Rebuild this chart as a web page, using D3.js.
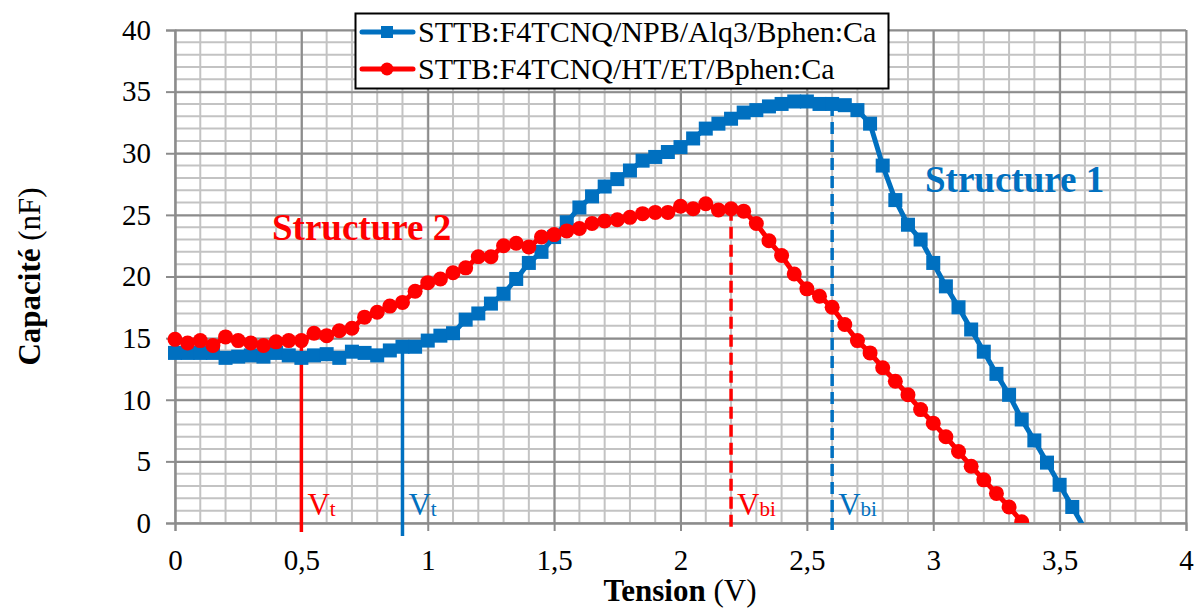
<!DOCTYPE html>
<html>
<head>
<meta charset="utf-8">
<script src="https://cdn.jsdelivr.net/npm/d3@7"></script>
<style>
  body { margin: 0; background: #fff; }
  text { font-family: "Liberation Serif", "Times New Roman", serif; }
</style>
</head>
<body>
<div id="chart"></div>
<script>
const width = 1200;
const height = 608;
const margin = { top: 30, right: 14, bottom: 85, left: 175 };

// Structure 1 : STTB:F4TCNQ/NPB/Alq3/Bphen:Ca
const tension1 = [0, 0.05, 0.1, 0.15, 0.2, 0.25, 0.3, 0.35, 0.4, 0.45, 0.5, 0.55, 0.6, 0.65, 0.7, 0.75,
  0.8, 0.85, 0.9, 0.95, 1, 1.05, 1.1, 1.15, 1.2, 1.25, 1.3, 1.35, 1.4, 1.45, 1.5, 1.55, 1.6, 1.65,
  1.7, 1.75, 1.8, 1.85, 1.9, 1.95, 2, 2.05, 2.1, 2.15, 2.2, 2.25, 2.3, 2.35, 2.4, 2.45, 2.5, 2.55,
  2.6, 2.65, 2.7, 2.75, 2.8, 2.85, 2.9, 2.95, 3, 3.05, 3.1, 3.15, 3.2, 3.25, 3.3, 3.35, 3.4, 3.45,
  3.5, 3.55, 3.6];
const capa1 = [13.8, 13.8, 13.8, 13.8, 13.4, 13.5, 13.6, 13.5, 13.8, 13.6, 13.4, 13.6, 13.7, 13.4, 13.9, 13.8,
  13.6, 14.0, 14.3, 14.3, 14.8, 15.2, 15.4, 16.5, 17.0, 17.8, 18.6, 19.8, 21.1, 22.0, 23.2, 24.4, 25.6, 26.5,
  27.3, 27.9, 28.6, 29.4, 29.7, 30.1, 30.5, 31.2, 32.0, 32.4, 32.8, 33.3, 33.5, 33.8, 34.0, 34.2, 34.2, 34.0,
  34.0, 33.9, 33.5, 32.4, 29.0, 26.2, 24.2, 23.0, 21.1, 19.2, 17.5, 15.7, 13.9, 12.1, 10.4, 8.4, 6.7, 4.9,
  3.1, 1.3, -0.5];

// Structure 2 : STTB:F4TCNQ/HT/ET/Bphen:Ca
const tension2 = [0, 0.05, 0.1, 0.15, 0.2, 0.25, 0.3, 0.35, 0.4, 0.45, 0.5, 0.55, 0.6, 0.65, 0.7, 0.75,
  0.8, 0.85, 0.9, 0.95, 1, 1.05, 1.1, 1.15, 1.2, 1.25, 1.3, 1.35, 1.4, 1.45, 1.5, 1.55, 1.6, 1.65,
  1.7, 1.75, 1.8, 1.85, 1.9, 1.95, 2, 2.05, 2.1, 2.15, 2.2, 2.25, 2.3, 2.35, 2.4, 2.45, 2.5, 2.55,
  2.6, 2.65, 2.7, 2.75, 2.8, 2.85, 2.9, 2.95, 3, 3.05, 3.1, 3.15, 3.2, 3.25, 3.3, 3.35];
const capa2 = [14.9, 14.6, 14.8, 14.4, 15.1, 14.8, 14.6, 14.4, 14.7, 14.8, 14.8, 15.4, 15.2, 15.6, 15.8, 16.7,
  17.1, 17.6, 17.9, 18.8, 19.5, 19.8, 20.3, 20.7, 21.6, 21.6, 22.5, 22.7, 22.4, 23.2, 23.4, 23.7, 23.9, 24.3,
  24.5, 24.6, 24.8, 25.1, 25.2, 25.2, 25.7, 25.5, 25.9, 25.4, 25.5, 25.3, 24.3, 22.9, 21.7, 20.2, 19.0, 18.4,
  17.5, 16.1, 14.8, 13.8, 12.6, 11.5, 10.4, 9.2, 8.1, 7.0, 5.8, 4.6, 3.5, 2.4, 1.3, 0.1];

// tensions caractéristiques
const markerV = [0.5, 0.9, 2.2, 2.6];
const markerTop = [14.8, 14.3, 25.5, 34.0];
const markerSeries = [2, 1, 2, 1];
const markerLabel = ["t", "t", "bi", "bi"];
const markerDashed = [false, false, true, true];

const xTicks = [0, 0.5, 1, 1.5, 2, 2.5, 3, 3.5, 4];
const yTicks = [0, 5, 10, 15, 20, 25, 30, 35, 40];
const legendLabels = ["STTB:F4TCNQ/NPB/Alq3/Bphen:Ca", "STTB:F4TCNQ/HT/ET/Bphen:Ca"];

const blue = "#0070C0";
const red = "#FF0000";
const colorOf = s => s === 1 ? blue : red;
const fmt = d => String(d).replace(".", ",");

const svg = d3.select("#chart").append("svg")
  .attr("width", width)
  .attr("height", height);

const x = d3.scaleLinear().domain([0, 4]).range([margin.left, width - margin.right]);
const y = d3.scaleLinear().domain([0, 40]).range([height - margin.bottom, margin.top]);

// grille secondaire
svg.append("g")
  .selectAll("line")
  .data(d3.range(0, 4.01, 0.1).map(d => +d.toFixed(1)))
  .join("line")
  .attr("x1", d => x(d)).attr("x2", d => x(d))
  .attr("y1", y(0)).attr("y2", y(40))
  .attr("stroke", "#c3c3c3").attr("stroke-width", 2);

svg.append("g")
  .selectAll("line")
  .data(d3.range(0, 41, 1))
  .join("line")
  .attr("x1", x(0)).attr("x2", x(4))
  .attr("y1", d => y(d)).attr("y2", d => y(d))
  .attr("stroke", "#c3c3c3").attr("stroke-width", 2);

// grille principale
svg.append("g")
  .call(d3.axisBottom(x).tickValues(xTicks).tickSize(-(y(0) - y(40))).tickFormat(""))
  .attr("transform", `translate(0,${y(0)})`)
  .call(g => g.select(".domain").remove())
  .call(g => g.selectAll("line").attr("stroke", "#8c8c8c").attr("stroke-width", 2));

svg.append("g")
  .call(d3.axisLeft(y).tickValues(yTicks).tickSize(-(x(4) - x(0))).tickFormat(""))
  .attr("transform", `translate(${x(0)},0)`)
  .call(g => g.select(".domain").remove())
  .call(g => g.selectAll("line").attr("stroke", "#8c8c8c").attr("stroke-width", 2));

// axes
const xAxis = svg.append("g")
  .attr("transform", `translate(0,${y(0)})`)
  .call(d3.axisBottom(x).tickValues(xTicks).tickSize(8).tickPadding(18).tickFormat(fmt));
xAxis.select(".domain").attr("stroke", "#8c8c8c").attr("stroke-width", 2);
xAxis.selectAll(".tick line").attr("stroke", "#8c8c8c").attr("stroke-width", 2);
xAxis.selectAll("text").attr("font-size", 29).attr("fill", "#000")
  .attr("font-family", "Liberation Serif");

const yAxis = svg.append("g")
  .attr("transform", `translate(${x(0)},0)`)
  .call(d3.axisLeft(y).tickValues(yTicks).tickSize(9).tickPadding(15));
yAxis.select(".domain").attr("stroke", "#8c8c8c").attr("stroke-width", 2);
yAxis.selectAll(".tick line").attr("stroke", "#8c8c8c").attr("stroke-width", 2);
yAxis.selectAll("text").attr("font-size", 29).attr("fill", "#000")
  .attr("font-family", "Liberation Serif");

// titres
const xt = svg.append("text")
  .attr("x", 680).attr("y", 601)
  .attr("text-anchor", "middle")
  .attr("font-size", 31);
xt.append("tspan").attr("font-weight", "bold").text("Tension");
xt.append("tspan").text(" (V)");

const yt = svg.append("text")
  .attr("transform", `translate(40,${y(20)}) rotate(-90)`)
  .attr("text-anchor", "middle")
  .attr("font-size", 31);
yt.append("tspan").attr("font-weight", "bold").text("Capacité");
yt.append("tspan").text(" (nF)");

// traits verticaux Vt / Vbi
const marks = markerV.map((v, i) => ({ v, top: markerTop[i], s: markerSeries[i], sub: markerLabel[i], dash: markerDashed[i] }));

svg.append("g")
  .selectAll("line")
  .data(marks)
  .join("line")
  .attr("x1", d => x(d.v)).attr("x2", d => x(d.v))
  .attr("y1", d => y(d.top)).attr("y2", d => y(0) + (d.s === 1 ? 13 : 9))
  .attr("stroke", d => colorOf(d.s))
  .attr("stroke-width", 3.5)
  .attr("stroke-dasharray", d => d.dash ? "12,6" : null);

const lbl = svg.append("g")
  .selectAll("text")
  .data(marks)
  .join("text")
  .attr("x", d => x(d.v) + 6)
  .attr("y", y(0) - 8)
  .attr("font-size", 31)
  .attr("fill", d => colorOf(d.s));
lbl.append("tspan").text("V");
lbl.append("tspan").attr("font-size", 21).attr("dy", 1).text(d => d.sub);

// séries
svg.append("clipPath").attr("id", "plot-clip")
  .append("rect")
  .attr("x", x(0) - 10).attr("y", y(40) - 10)
  .attr("width", x(4) - x(0) + 20).attr("height", y(0) - y(40) + 10);

const line = d3.line().x(d => x(d[0])).y(d => y(d[1]));
const series1 = tension1.map((t, i) => [t, capa1[i]]);
const series2 = tension2.map((t, i) => [t, capa2[i]]);

const plot = svg.append("g").attr("clip-path", "url(#plot-clip)");

plot.append("path")
  .datum(series1)
  .attr("d", line)
  .attr("fill", "none")
  .attr("stroke", blue)
  .attr("stroke-width", 5)
  .attr("stroke-linejoin", "round");

plot.selectAll(".sq")
  .data(series1.filter(d => d[1] >= 0))
  .join("rect")
  .attr("class", "sq")
  .attr("x", d => x(d[0]) - 7)
  .attr("y", d => y(d[1]) - 7)
  .attr("width", 14).attr("height", 14)
  .attr("fill", blue);

plot.append("path")
  .datum(series2)
  .attr("d", line)
  .attr("fill", "none")
  .attr("stroke", red)
  .attr("stroke-width", 5)
  .attr("stroke-linejoin", "round");

plot.selectAll(".dot")
  .data(series2)
  .join("circle")
  .attr("class", "dot")
  .attr("cx", d => x(d[0]))
  .attr("cy", d => y(d[1]))
  .attr("r", 7.5)
  .attr("fill", red);

// annotations
svg.append("text")
  .attr("x", 272).attr("y", 240)
  .attr("font-size", 37).attr("font-weight", "bold")
  .attr("fill", red)
  .text("Structure 2");

svg.append("text")
  .attr("x", 925).attr("y", 192)
  .attr("font-size", 37).attr("font-weight", "bold")
  .attr("fill", blue)
  .text("Structure 1");

// légende
const legend = svg.append("g");
legend.append("rect")
  .attr("x", 355.5).attr("y", 13.5)
  .attr("width", 533).attr("height", 75)
  .attr("fill", "#fff")
  .attr("stroke", "#000").attr("stroke-width", 2);

legendLabels.forEach((label, i) => {
  const ly = 32 + i * 37;
  const c = i === 0 ? blue : red;
  legend.append("line")
    .attr("x1", 362).attr("x2", 413)
    .attr("y1", ly).attr("y2", ly)
    .attr("stroke", c).attr("stroke-width", 5)
    .attr("stroke-linecap", "round");
  if (i === 0) {
    legend.append("rect").attr("x", 381).attr("y", ly - 6).attr("width", 12).attr("height", 12).attr("fill", c);
  } else {
    legend.append("circle").attr("cx", 387).attr("cy", ly).attr("r", 6.5).attr("fill", c);
  }
  legend.append("text")
    .attr("x", 418).attr("y", ly + 10)
    .attr("font-size", 30)
    .text(label);
});
</script>
</body>
</html>
